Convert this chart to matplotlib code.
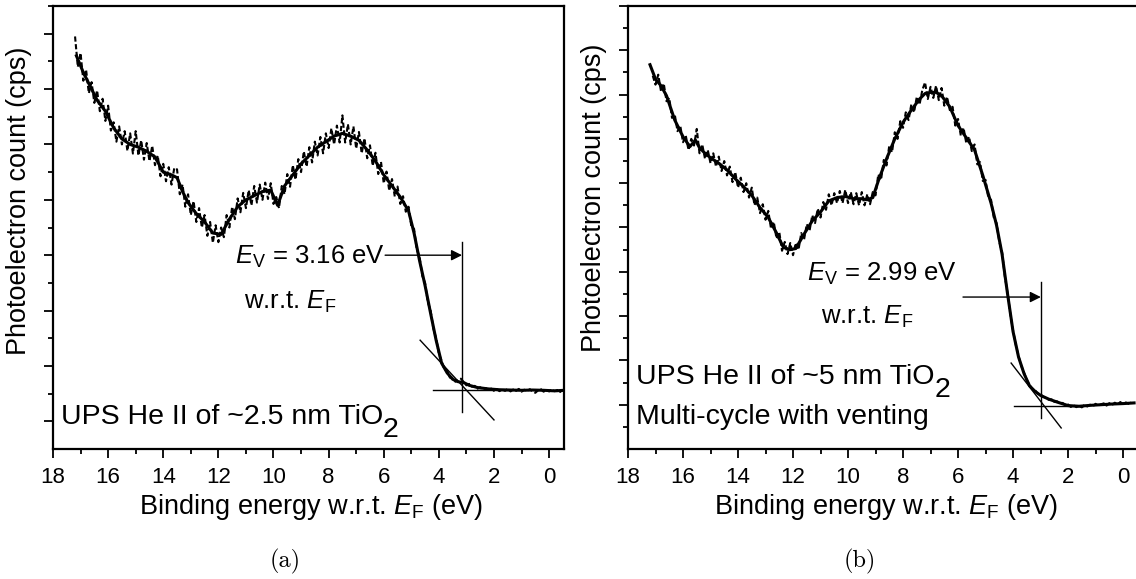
import numpy as np
import matplotlib
matplotlib.use("Agg")
import matplotlib.pyplot as plt
from matplotlib.ticker import MultipleLocator, FixedLocator

plt.rcParams['font.family'] = ['Liberation Sans', 'DejaVu Sans']
plt.rcParams['mathtext.fontset'] = 'custom'
plt.rcParams['mathtext.rm'] = 'Liberation Sans'
plt.rcParams['mathtext.it'] = 'Liberation Sans:italic'

# ---- panel (a): ~2.5 nm TiO2 (counts in arbitrary units) ----
a_smooth_E = [17.15, 16.9, 16.7, 16.4, 16.1, 15.8, 15.5, 15.2, 14.9, 14.6, 14.3, 14.0,
              13.7, 13.5, 13.3, 13.1, 12.8, 12.5, 12.2, 11.9, 11.6, 11.3, 11.0, 10.7,
              10.4, 10.1, 9.85, 9.6, 9.3, 9.0, 8.7, 8.4, 8.1, 7.8, 7.5, 7.2, 6.9, 6.6,
              6.3, 6.0, 5.7, 5.4, 5.1, 4.9, 4.7, 4.5, 4.3, 4.1, 3.9, 3.7, 3.5, 3.3,
              3.1, 2.9, 2.6, 2.2, 1.8, 1.4, 1.0, 0.6, 0.2, -0.2, -0.55]
a_smooth_y = [14.2, 13.6, 13.2, 12.6, 12.2, 11.6, 11.2, 11.0, 10.9, 10.75, 10.55, 10.0,
              9.9, 9.8, 9.3, 8.9, 8.5, 8.2, 7.8, 7.75, 8.3, 8.75, 9.0, 9.15,
              9.3, 9.35, 8.8, 9.5, 9.9, 10.3, 10.6, 10.9, 11.1, 11.3, 11.4, 11.3, 11.15, 10.8,
              10.4, 9.9, 9.5, 9.1, 8.6, 7.8, 6.8, 5.9, 4.9, 3.93, 3.1, 2.75, 2.52, 2.43,
              2.4, 2.3, 2.22, 2.17, 2.14, 2.13, 2.12, 2.13, 2.12, 2.1, 2.12]
# raw spectrum, 0.1 eV steps from 17.2 eV down to -0.5 eV
a_raw_y = [14.9, 13.8, 14.3, 13.3, 13.7, 12.85, 13.25, 12.5, 12.95, 12.2,
           12.65, 11.85, 12.4, 11.5, 11.8, 11.1, 11.65, 11.0, 11.48, 10.77,
           11.4, 10.67, 11.48, 10.6, 11.15, 10.45, 11.05, 10.4, 10.95, 10.25,
           10.6, 9.85, 10.3, 9.67, 10.18, 9.55, 10.15, 10.1, 9.2, 9.55,
           8.75, 9.2, 8.45, 8.95, 8.2, 8.7, 8.0, 8.45, 7.7, 8.2,
           7.45, 8.08, 7.47, 8.0, 7.65, 8.45, 8.0, 8.75, 8.3, 9.05,
           8.55, 9.25, 8.7, 9.35, 8.8, 9.5, 8.9, 9.55, 9.0, 9.62,
           9.03, 9.6, 8.85, 9.1, 8.7, 9.5, 9.2, 9.93, 9.47, 10.25,
           9.73, 10.47, 10.0, 10.75, 10.2, 10.9, 10.35, 11.1, 10.6, 11.27,
           10.68, 11.4, 10.87, 11.58, 11.0, 11.68, 11.07, 12.05, 11.07, 11.73,
           11.0, 11.65, 10.85, 11.45, 10.68, 11.22, 10.5, 10.97, 10.23, 10.7,
           9.93, 10.37, 9.6, 10.02, 9.33, 9.75, 9.12, 9.48, 8.85, 9.13,
           8.57, 8.75, 8.05, 7.95, 7.2, 6.95, 6.25, 6.0, 5.3, 5.0,
           4.35, 4.0, 3.45, 3.18, 2.87, 2.83, 2.58, 2.57, 2.43, 2.48,
           2.54, 2.42, 2.3, 2.35, 2.25, 2.28, 2.18, 2.23, 2.14, 2.2,
           2.12, 2.18, 2.1, 2.16, 2.09, 2.15, 2.1, 2.17, 2.08, 2.15,
           2.1, 2.17, 2.07, 2.14, 2.09, 2.16, 2.08, 2.03, 2.12, 2.16,
           2.07, 2.14, 2.08, 2.16, 2.09, 2.13, 2.06, 2.14]
a_raw_E = np.linspace(17.2, -0.5, len(a_raw_y))

# ---- panel (b): ~5 nm TiO2, multi-cycle with venting ----
b_smooth_E = [17.2, 17.0, 16.8, 16.6, 16.3, 16.0, 15.75, 15.55, 15.4, 15.2, 15.0, 14.7,
              14.4, 14.1, 13.8, 13.5, 13.2, 12.9, 12.6, 12.35, 12.1, 11.9, 11.6, 11.3,
              11.0, 10.7, 10.4, 10.1, 9.8, 9.5, 9.3, 9.1, 8.9, 8.6, 8.3, 8.0,
              7.7, 7.4, 7.2, 7.0, 6.8, 6.6, 6.3, 6.0, 5.7, 5.4, 5.1, 4.8,
              4.6, 4.4, 4.2, 4.0, 3.8, 3.6, 3.4, 3.2, 3.0, 2.7, 2.4, 2.0,
              1.6, 1.2, 0.8, 0.4, 0.0, -0.4]
b_smooth_y = [17.35, 16.7, 16.4, 15.95, 14.85, 14.1, 13.65, 13.95, 13.6, 13.35, 13.15, 12.9,
              12.6, 12.2, 11.85, 11.45, 10.9, 10.45, 9.75, 9.1, 9.0, 9.05, 9.7, 10.3,
              10.7, 11.2, 11.35, 11.4, 11.3, 11.3, 11.25, 11.35, 12.1, 13.1, 14.0, 14.75,
              15.3, 15.8, 16.05, 16.1, 16.1, 15.95, 15.45, 14.6, 14.05, 13.5, 12.35, 11.1,
              10.1, 8.8, 7.0, 5.3, 4.15, 3.4, 2.85, 2.6, 2.42, 2.25, 2.12, 1.96,
              1.93, 1.97, 2.0, 2.03, 2.05, 2.08]
# raw spectrum, 0.1 eV steps from 17.1 eV down to -0.3 eV
b_raw_y = [16.85, 16.45, 16.9, 16.15, 16.5, 15.7, 15.85, 14.95, 15.1, 14.35,
           14.6, 13.85, 14.15, 13.5, 14.0, 13.7, 14.45, 13.35, 13.75, 13.1,
           13.5, 12.9, 13.35, 12.75, 13.2, 12.55, 13.0, 12.35, 12.75, 12.05,
           12.5, 11.8, 12.25, 11.6, 12.0, 11.35, 11.8, 11.0, 11.35, 10.65,
           11.05, 10.35, 10.75, 9.95, 10.25, 9.5, 9.8, 8.95, 9.35, 8.8,
           9.3, 8.75, 9.3, 9.0, 9.75, 9.45, 10.15, 9.85, 10.55, 10.2,
           10.85, 10.45, 11.15, 10.8, 11.5, 11.0, 11.55, 11.1, 11.65, 11.1,
           11.7, 11.1, 11.6, 11.05, 11.55, 11.0, 11.6, 11.0, 11.5, 11.05,
           11.6, 11.45, 12.4, 12.15, 13.05, 12.8, 13.7, 13.4, 14.3, 14.0,
           14.8, 14.5, 15.2, 14.85, 15.55, 15.2, 15.9, 15.55, 16.2, 16.55,
           15.8, 16.35, 15.85, 16.4, 15.75, 16.3, 15.5, 15.9, 15.3, 15.45,
           14.6, 14.9, 14.15, 14.5, 13.8, 14.1, 13.45, 13.75, 12.85, 12.95,
           12.1, 12.15, 11.35, 11.25, 10.45, 10.2, 9.35, 8.9, 7.8, 7.05,
           6.1, 5.35, 4.7, 4.2, 3.75, 3.45, 3.1, 2.9, 2.7, 2.65,
           2.5, 2.47, 2.35, 2.33, 2.22, 2.24, 2.13, 2.15, 2.07, 2.08,
           1.98, 2.01, 1.9, 1.98, 1.89, 1.96, 1.88, 1.99, 1.92, 2.0,
           1.93, 2.04, 1.95, 2.02, 2.06, 1.96, 2.07, 1.99, 2.09, 2.01,
           2.12, 2.02, 2.1, 2.04, 2.11]
b_raw_E = np.linspace(17.1, -0.3, len(b_raw_y))

# onset construction lines: ([E0, E1], [y0, y1])
a_arrow = ([5.95, 3.16], [7.0, 7.0])
a_vline = ([3.16, 3.16], [7.47, 1.34])
a_base = ([4.21, 1.5], [2.13, 2.13])
a_tangent = ([4.68, 2.0], [3.93, 1.05])

b_arrow = ([5.82, 2.99], [6.86, 6.86])
b_vline = ([2.99, 2.99], [7.54, 1.4])
b_base = ([3.96, 1.5], [1.94, 1.94])
b_tangent = ([4.07, 2.25], [3.88, 0.95])

W, H = 1136, 579
fig = plt.figure(figsize=(W / 100, H / 100), dpi=100)
axa = fig.add_axes([53 / W, 1 - 449 / H, (564 - 53) / W, (449 - 6) / H])
axb = fig.add_axes([628 / W, 1 - 449 / H, (W - 628) / W, (449 - 6) / H])


def style(ax, xr, ytop, ymajor, yminor, ylab_y):
    ax.set_xlim(18, xr)
    ax.set_ylim(0, ytop)
    for s in ax.spines.values():
        s.set_linewidth(1.6)
    ax.xaxis.set_major_locator(MultipleLocator(2))
    ax.xaxis.set_minor_locator(MultipleLocator(1))
    ax.yaxis.set_major_locator(FixedLocator(ymajor))
    ax.yaxis.set_minor_locator(FixedLocator(yminor))
    ax.tick_params(which='major', direction='out', length=6.5, width=1.3,
                   labelsize=16, pad=6.5, top=False, right=False)
    ax.tick_params(which='minor', direction='out', length=3.5, width=1.3,
                   top=False, right=False)
    ax.tick_params(axis='y', which='both', labelleft=False)
    ax.set_xlabel(r'Binding energy w.r.t. $E_\mathrm{F}$ (eV)', fontsize=19.5, va='center')
    ax.set_ylabel('Photoelectron count (cps)', fontsize=19.5, va='center')
    w = ax.get_position().width * W
    ax.xaxis.set_label_coords(258 / w, -0.13)
    ax.yaxis.set_label_coords(-34 / w, ylab_y)


style(axa, -0.54, 16, list(range(1, 16, 2)), list(range(2, 17, 2)), 0.56)
style(axb, -0.47, 20, list(range(2, 21, 2)), list(range(1, 20, 2)), 0.567)
axb.spines['right'].set_visible(False)

for ax, rE, ry, sE, sy in [(axa, a_raw_E, a_raw_y, a_smooth_E, a_smooth_y),
                           (axb, b_raw_E, b_raw_y, b_smooth_E, b_smooth_y)]:
    ax.plot(rE, ry, color='black', lw=1.5, ls=(0, (2.5, 1.2)))
    ax.plot(sE, sy, color='black', lw=2.2)

for ax, arrow, vline, base, tang in [(axa, a_arrow, a_vline, a_base, a_tangent),
                                     (axb, b_arrow, b_vline, b_base, b_tangent)]:
    ax.plot(*vline, color='black', lw=1.0)
    ax.plot(*base, color='black', lw=1.0)
    ax.plot(*tang, color='black', lw=1.0)
    ax.annotate('', xy=(arrow[0][1], arrow[1][1]), xytext=(arrow[0][0], arrow[1][0]),
                arrowprops=dict(arrowstyle='-|>', color='black', lw=1.0,
                                mutation_scale=16, shrinkA=0, shrinkB=0))

axa.text(5.95, 6.95, r'$E_\mathrm{V}$ = 3.16 eV', fontsize=18.5, ha='right', va='center')
axa.text(9.4, 5.3, r'w.r.t. $E_\mathrm{F}$', fontsize=18.5, ha='center', va='center')
axb.text(8.76, 7.9, r'$E_\mathrm{V}$ = 2.99 eV', fontsize=18.5, ha='center', va='center')
axb.text(9.3, 5.96, r'w.r.t. $E_\mathrm{F}$', fontsize=18.5, ha='center', va='center')

ta = axa.text(17.72, 1.16, 'UPS He II of ~2.5 nm TiO', fontsize=20.5, ha='left', va='center')
axa.annotate('2', xy=(1.0, 0.0), xycoords=ta, fontsize=20.5, ha='left', va='center')
tb = axb.text(17.7, 3.25, 'UPS He II of ~5 nm TiO', fontsize=20.5, ha='left', va='center')
axb.annotate('2', xy=(1.0, 0.0), xycoords=tb, fontsize=20.5, ha='left', va='center')
axb.text(17.7, 1.44, 'Multi-cycle with venting', fontsize=20.5, ha='left', va='center')

fig.text(285 / W, 1 - 561 / H, '(a)', fontsize=17.5, family='cmr10', ha='center', va='center')
fig.text(860 / W, 1 - 561 / H, '(b)', fontsize=17.5, family='cmr10', ha='center', va='center')

fig.savefig('out.png', dpi=100)
